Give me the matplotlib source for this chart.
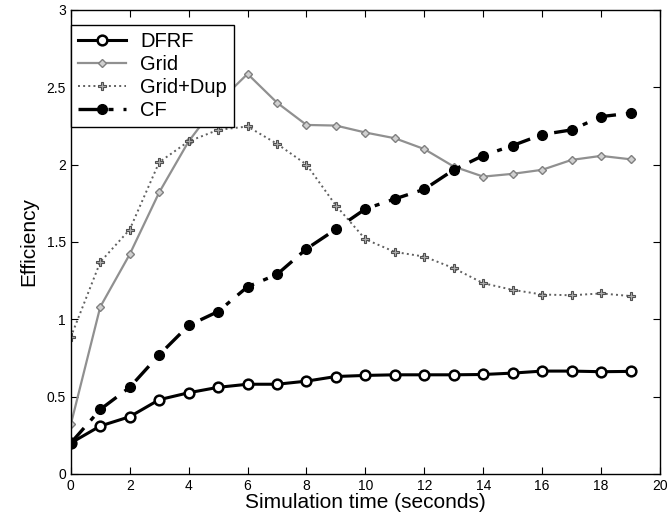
import matplotlib
matplotlib.use("Agg")
import matplotlib.pyplot as plt

plt.rcParams['font.family'] = ['Liberation Sans', 'DejaVu Sans']

# simulation time (s)
t = list(range(20))

dfrf = [0.20, 0.31, 0.37, 0.48, 0.525, 0.56, 0.58, 0.58, 0.60, 0.63,
        0.637, 0.641, 0.641, 0.641, 0.643, 0.652, 0.665, 0.665, 0.661, 0.663]
grid = [0.32, 1.08, 1.42, 1.82, 2.15, 2.40, 2.586, 2.40, 2.256, 2.252,
        2.207, 2.17, 2.10, 1.987, 1.922, 1.94, 1.966, 2.03, 2.056, 2.034]
grid_dup = [0.885, 1.37, 1.58, 2.015, 2.15, 2.224, 2.246, 2.134, 2.0, 1.735,
            1.517, 1.435, 1.405, 1.33, 1.233, 1.19, 1.16, 1.155, 1.167, 1.15]
cf = [0.20, 0.417, 0.56, 0.77, 0.96, 1.05, 1.21, 1.29, 1.455, 1.582,
      1.713, 1.778, 1.84, 1.966, 2.058, 2.123, 2.194, 2.224, 2.31, 2.332]

fig = plt.figure(figsize=(6.68, 5.18), dpi=100)
ax = fig.add_axes([0.106, 0.085, 0.882, 0.896])

ax.plot(t, dfrf, color="black", lw=2.2, marker="o", ms=7, mfc="white",
        mec="black", mew=1.8, label="DFRF")
ax.plot(t, grid, color="#909090", lw=1.6, marker="D", ms=4.5, mfc="#d0d0d0",
        mec="#808080", mew=1, label="Grid")
ax.plot(t, grid_dup, color="#606060", lw=1.4, ls=":", marker="P", ms=6,
        mfc="#b0b0b0", mec="#505050", mew=0.8, label="Grid+Dup")
ax.plot(t, cf, color="black", lw=2.4, ls=(0, (6, 3, 1.5, 3)), marker="o", ms=7,
        mfc="black", mec="black", label="CF")

ax.set_xlim(0, 20)
ax.set_ylim(0, 3)
ax.set_xticks(range(0, 21, 2))
ax.set_yticks([0, 0.5, 1, 1.5, 2, 2.5, 3])
ax.set_yticklabels(["0", "0.5", "1", "1.5", "2", "2.5", "3"])
ax.tick_params(direction="in", top=True, right=True, labelsize=10, length=5)
for s in ax.spines.values():
    s.set_linewidth(1)

ax.set_xlabel("Simulation time (seconds)", fontsize=15, labelpad=0)
ax.set_ylabel("Efficiency", fontsize=15, labelpad=6)

leg = ax.legend(loc="upper left", bbox_to_anchor=(0.0, 0.968), fontsize=14.5,
                frameon=True, fancybox=False, framealpha=1, edgecolor="black",
                borderaxespad=0, handlelength=2.4, borderpad=0.35,
                labelspacing=0.2, handletextpad=0.7)
leg.get_frame().set_linewidth(1)

fig.savefig("out.png", dpi=100)
